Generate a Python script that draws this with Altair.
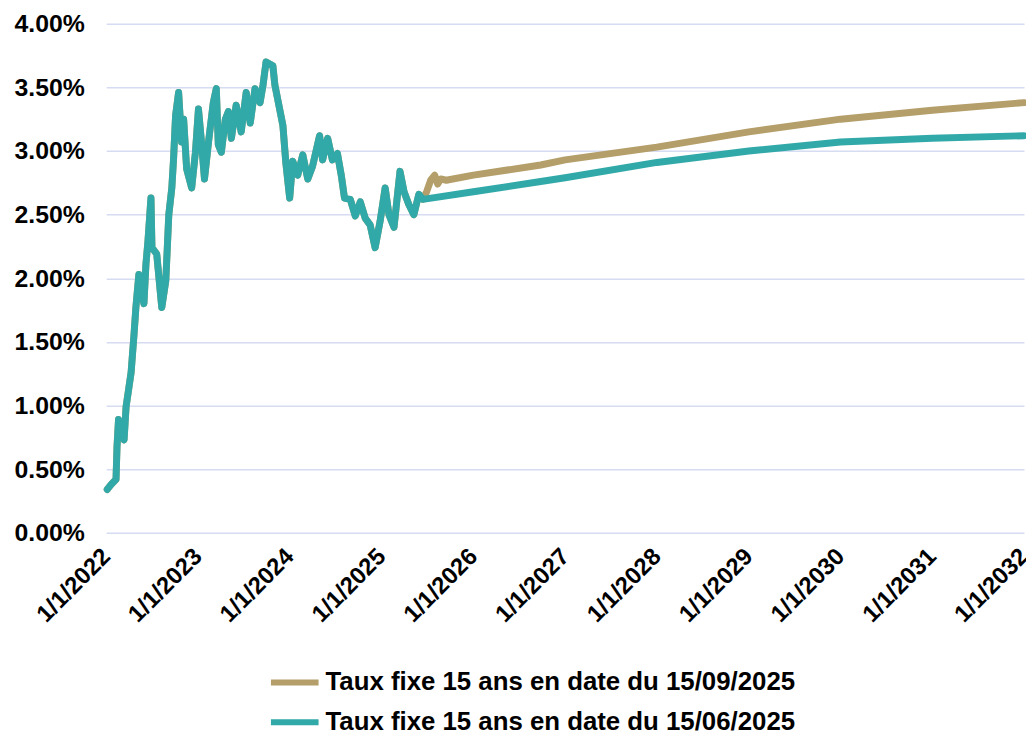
import altair as alt
import pandas as pd

# ---- data (rates in %) ----
hist_dates = [
    "2022-01-05", "2022-01-21", "2022-02-09", "2022-02-13", "2022-02-19", "2022-03-13",
    "2022-03-21", "2022-04-10", "2022-04-22", "2022-04-29", "2022-05-11", "2022-05-31",
    "2022-06-08", "2022-06-16", "2022-06-28", "2022-07-02", "2022-07-21", "2022-08-10",
    "2022-08-26", "2022-09-07", "2022-09-19", "2022-09-26", "2022-10-04", "2022-10-16",
    "2022-10-28", "2022-11-05", "2022-11-17", "2022-12-07", "2022-12-22", "2023-01-03",
    "2023-01-15", "2023-01-27", "2023-02-12", "2023-03-03", "2023-03-15", "2023-03-23",
    "2023-04-04", "2023-04-20", "2023-05-02", "2023-05-14", "2023-06-02", "2023-06-22",
    "2023-07-12", "2023-07-28", "2023-08-16", "2023-09-05", "2023-09-17", "2023-09-29",
    "2023-10-26", "2023-11-03", "2023-11-15", "2023-12-05", "2023-12-17", "2024-01-01",
    "2024-01-13", "2024-02-02", "2024-02-22", "2024-03-13", "2024-04-01", "2024-04-29",
    "2024-05-11", "2024-05-31", "2024-06-19", "2024-07-09", "2024-07-25", "2024-08-06",
    "2024-08-29", "2024-09-18", "2024-10-08", "2024-10-28", "2024-11-16", "2024-12-06",
    "2024-12-26", "2025-01-15", "2025-01-30", "2025-02-19", "2025-03-15", "2025-03-31",
    "2025-04-19", "2025-05-09", "2025-05-29", "2025-06-14",
]
hist_vals = [
    0.34, 0.38, 0.42, 0.68, 0.89, 0.73,
    0.99, 1.26, 1.57, 1.77, 2.03, 1.80,
    2.11, 2.29, 2.63, 2.24, 2.19, 1.77,
    1.98, 2.50, 2.71, 2.94, 3.28, 3.46,
    3.07, 3.25, 2.86, 2.71, 2.99, 3.33,
    3.07, 2.78, 3.07, 3.38, 3.49, 3.05,
    2.99, 3.25, 3.31, 3.10, 3.36, 3.15,
    3.46, 3.22, 3.49, 3.38, 3.52, 3.70,
    3.67, 3.52, 3.40, 3.20, 2.90, 2.63,
    2.92, 2.81, 2.97, 2.78, 2.88, 3.12,
    2.93, 3.10, 2.93, 2.98, 2.80, 2.63,
    2.62, 2.49, 2.60, 2.47, 2.42, 2.24,
    2.45, 2.71, 2.50, 2.40, 2.84, 2.68,
    2.58, 2.50, 2.66, 2.62,
]

# history Jun -> Sep 2025 (only in the 15/09/2025 series)
gold_ext_dates = ["2025-06-29", "2025-07-15", "2025-07-31", "2025-08-12", "2025-08-24"]
gold_ext_vals = [2.68, 2.77, 2.81, 2.74, 2.78]

# forward curves
gold_fwd_dates = ["2025-09-15", "2026-01-01", "2026-09-26", "2027-01-01", "2028-01-01",
                  "2029-01-01", "2030-01-01", "2031-01-01", "2032-01-01"]
gold_fwd_vals = [2.77, 2.81, 2.89, 2.93, 3.03, 3.15, 3.25, 3.32, 3.38]

teal_fwd_dates = ["2026-01-01", "2026-09-26", "2027-01-01", "2028-01-01",
                  "2029-01-01", "2030-01-01", "2031-01-01", "2032-01-01"]
teal_fwd_vals = [2.68, 2.76, 2.79, 2.91, 3.00, 3.07, 3.10, 3.12]

name_gold = "Taux fixe 15 ans en date du 15/09/2025"
name_teal = "Taux fixe 15 ans en date du 15/06/2025"
col_gold = "#b49e69"
col_teal = "#32a9a9"

gold_df = pd.DataFrame({
    "date": hist_dates + gold_ext_dates + gold_fwd_dates,
    "taux": hist_vals + gold_ext_vals + gold_fwd_vals,
    "serie": name_gold,
})
teal_df = pd.DataFrame({
    "date": hist_dates + teal_fwd_dates,
    "taux": hist_vals + teal_fwd_vals,
    "serie": name_teal,
})

FONT = "Liberation Sans"
year_ticks = [alt.DateTime(year=y, month=1, date=1) for y in range(2022, 2033)]

x_enc = alt.X(
    "date:T",
    scale=alt.Scale(domain=[alt.DateTime(year=2022, month=1, date=1),
                            alt.DateTime(year=2032, month=1, date=1)], nice=False),
    axis=alt.Axis(
        values=year_ticks,
        labelExpr="'1/1/' + timeFormat(datum.value, '%Y')",
        labelAngle=-45, labelAlign="right", labelBaseline="middle",
        labelFont=FONT, labelFontSize=24, labelFontWeight="bold", labelColor="#000000",
        labelPadding=20, ticks=False, domain=False, grid=False, title=None,
        labelOverlap=False, labelFlush=False, labelBound=False,
    ),
)
y_enc = alt.Y(
    "taux:Q",
    scale=alt.Scale(domain=[0, 4], nice=False),
    axis=alt.Axis(
        values=[0, 0.5, 1, 1.5, 2, 2.5, 3, 3.5, 4],
        labelExpr="format(datum.value, '.2f') + '%'",
        labelFont=FONT, labelFontSize=25, labelFontWeight="bold", labelColor="#000000",
        labelPadding=22, ticks=False, domain=False, grid=True,
        gridColor="#d6dcf2", gridWidth=1.5, title=None,
    ),
)
color_enc = alt.Color(
    "serie:N",
    scale=alt.Scale(domain=[name_gold, name_teal], range=[col_gold, col_teal]),
    legend=alt.Legend(
        title=None, orient="none", legendX=163, legendY=637, direction="vertical",
        labelFont=FONT, labelFontSize=26, labelFontWeight="bold", labelColor="#000000",
        labelLimit=0,
        symbolType="stroke", symbolSize=2304, symbolStrokeWidth=6,
        labelOffset=4, rowPadding=-8, padding=0,
    ),
)

gold_line = alt.Chart(gold_df).mark_line(strokeWidth=7, strokeJoin="round", strokeCap="round").encode(
    x=x_enc, y=y_enc, color=color_enc)
teal_line = alt.Chart(teal_df).mark_line(strokeWidth=7, strokeJoin="round", strokeCap="round").encode(
    x=x_enc, y=y_enc, color=color_enc)

chart = alt.layer(gold_line, teal_line).properties(
    width=925, height=513,
    autosize=alt.AutoSizeParams(type="none"),
    padding={"left": 99, "top": 13, "right": 2, "bottom": 202},
    background="#ffffff",
).configure_view(stroke=None)

chart.save("out.html", embed_options={"renderer": "svg", "actions": False})
